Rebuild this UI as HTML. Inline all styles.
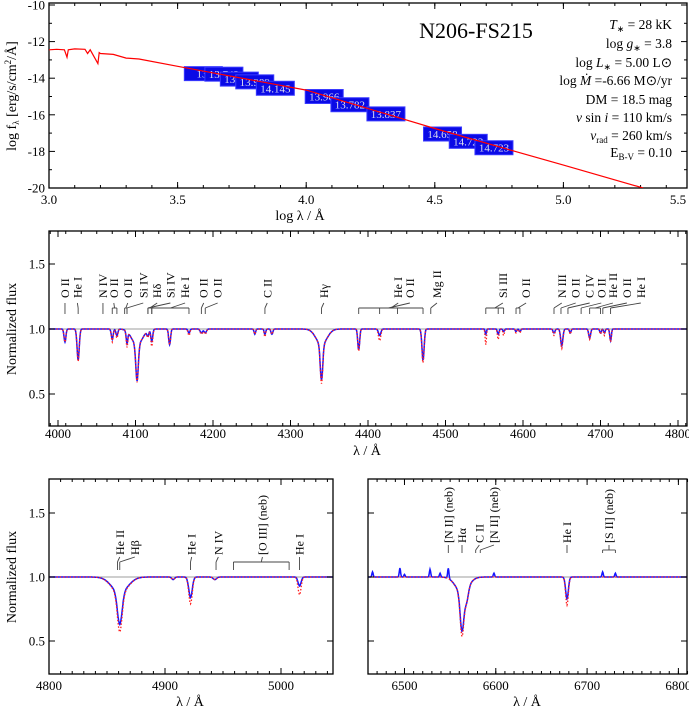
<!DOCTYPE html>
<html><head><meta charset="utf-8"><style>
body{margin:0;background:#fff}
svg{display:block;font-family:"Liberation Serif",serif}
</style></head><body>
<svg id="fig" width="689" height="712" viewBox="0 0 689 712" xmlns="http://www.w3.org/2000/svg"></svg>
<script>
// ---- SED panel data ----
const sedLogLam=[3.0,3.03,3.06,3.07,3.075,3.1,3.14,3.15,3.16,3.19,3.195,3.2,3.25,3.3,3.35,3.5,4.0,4.5,5.0,5.31];
const sedLogF=[-12.45,-12.42,-12.45,-12.85,-12.45,-12.4,-12.42,-12.65,-12.45,-13.2,-12.6,-12.65,-12.7,-12.9,-12.95,-13.35,-14.65,-16.75,-18.75,-20.0];
const photLabels=["13.","13.742","13.896","13.989","14.145","13.966","13.782","13.837","14.658","14.723","14.723"];
const photLogLam=[3.6,3.68,3.74,3.8,3.88,4.07,4.17,4.31,4.53,4.63,4.73];
const photLogF=[-13.75,-13.78,-14.05,-14.2,-14.55,-15.0,-15.45,-15.95,-17.05,-17.45,-17.8];
const sedXTicks=[3.0,3.5,4.0,4.5,5.0,5.5];
const sedYTicks=[-10,-12,-14,-16,-18,-20];
const params=["T∗ = 28 kK","log g∗ = 3.8","log L∗ = 5.00 L⊙","log Ṁ =-6.66 M⊙/yr","DM = 18.5 mag","v sin i = 110 km/s","vrad = 260 km/s","EB-V = 0.10"];
// ---- blue spectrum (4000-4800) lines: center, depth blue, depth red, sigma ----
const midCenters=[4009,4026,4070,4076,4089,4102,4102,4116,4121,4144,4169,4185,4190,4254,4267,4276,4340,4340,4388,4415,4471,4552,4568,4575,4591,4596,4640,4650,4661,4686,4700,4705,4713];
const midDepthB=[0.10,0.24,0.08,0.05,0.09,0.28,0.12,0.04,0.09,0.12,0.03,0.03,0.03,0.04,0.04,0.04,0.27,0.12,0.16,0.05,0.24,0.04,0.04,0.02,0.02,0.02,0.03,0.13,0.03,0.07,0.03,0.03,0.09];
const midDepthR=[0.10,0.25,0.10,0.07,0.12,0.29,0.12,0.05,0.13,0.12,0.05,0.04,0.04,0.04,0.06,0.04,0.30,0.12,0.17,0.09,0.26,0.12,0.08,0.05,0.03,0.03,0.05,0.15,0.04,0.08,0.04,0.05,0.10];
const midSigma=[1.2,1.4,1.2,1.2,1.0,1.6,7,1.2,1.2,1.2,1.2,1.5,1.5,1.0,1.0,1.2,1.6,7,1.2,1.5,1.4,0.8,1.0,1.0,1.0,1.0,1.2,1.4,1.0,1.2,1.0,1.0,1.0];
const midXTicks=[4000,4100,4200,4300,4400,4500,4600,4700,4800];
const midLabelText=["O II","He I","N IV","O II","O II","Si IV","Hδ","Si IV","He I","O II","O II","C II","Hγ","He I","O II","Mg II","Si III","O II","N III","O II","C IV","O II","He II","O II","He I"];
const midLabelPos=[4009,4025,4058,4072,4090,4110,4128,4145,4164,4188,4206,4270,4343,4439,4454,4489,4574,4604,4650,4668,4686,4701,4716,4734,4752];
const midLabelLine=[[4009],[4026],[4058],[4070,4076],[4086,4089],[4089],[4116,4121],[4116],[4121,4169],[4185],[4190],[4267],[4340],[4388,4471],[4415,4438],[4481],[4552,4568,4575],[4591,4596],[4640],[4649],[4658],[4675],[4686,4700],[4703],[4713]];
// ---- H-beta window ----
const hbCenters=[4861,4861,4907,4922,4943,5016];
const hbDepthB=[0.25,0.12,0.02,0.16,0.02,0.07];
const hbDepthR=[0.30,0.13,0.02,0.21,0.02,0.14];
const hbSigma=[2.0,7,1.2,1.5,1.5,1.3];
const hbXTicks=[4800,4900,5000];
const hbLabelText=["He II","Hβ","He I","N IV","[O III] (neb)","He I"];
const hbLabelPos=[4861,4874,4923,4946,4984,5016];
const hbLabelLine=[[4859],[4861],[4922],[4944],[4959,5007],[5016]];
// ---- H-alpha window ----
const haCenters=[6563,6563,6568,6678,6465,6495,6500,6528,6539,6548,6598,6717,6731];
const haDepthB=[0.30,0.12,0.10,0.17,-0.04,-0.07,-0.02,-0.06,-0.03,-0.08,-0.03,-0.04,-0.03];
const haDepthR=[0.34,0.12,0.10,0.22,0,0,0,0,0,0,0,0,0];
const haSigma=[2.0,7,2.0,1.5,0.7,0.7,0.7,0.7,0.7,0.7,0.7,0.7,0.7];
const haXTicks=[6500,6600,6700,6800];
const haLabelText=["[N II] (neb)","Hα","C II","[N II] (neb)","He I","[S II] (neb)"];
const haLabelPos=[6548,6563,6582,6598,6678,6724];
const haLabelLine=[[6548],[6563],[6578],[6583],[6678],[6717,6731]];

const NS="http://www.w3.org/2000/svg";
const svg=document.getElementById('fig');
function el(t,a,p){const e=document.createElementNS(NS,t);for(const k in a)e.setAttribute(k,a[k]);(p||svg).appendChild(e);return e;}
function lin(d0,d1,r0,r1){return v=>r0+(v-d0)*(r1-r0)/(d1-d0);}

function frame(x0,y0,x1,y1,name){
  const r=el('rect',{x:x0,y:y0,width:x1-x0,height:y1-y0,fill:'none',stroke:'#000','stroke-width':1.3});
  
  
}
function xticks(xs,major,minorStep,lo,hi,y0,y1,labY,fmt,name){
  const g=el('g',{});
  
  
  for(let v=lo;v<=hi+1e-9;v+=minorStep){const X=xs(v);if(X<xs(lo)-1)continue;
    el('line',{x1:X,x2:X,y1:y1,y2:y1-3,stroke:'#000'},g);el('line',{x1:X,x2:X,y1:y0,y2:y0+3,stroke:'#000'},g);}
  major.forEach(v=>{const X=xs(v);
    el('line',{x1:X,x2:X,y1:y1,y2:y1-6,stroke:'#000'},g);el('line',{x1:X,x2:X,y1:y0,y2:y0+6,stroke:'#000'},g);
    const t=el('text',{x:X,y:labY,'text-anchor':'middle','font-size':13},g);t.textContent=fmt(v);});
}
function yticks(ys,major,minor,x0,x1,labels,name){
  const g=el('g',{});
  
  
  minor.forEach(v=>{const Y=ys(v);el('line',{x1:x0,x2:x0+3,y1:Y,y2:Y,stroke:'#000'},g);el('line',{x1:x1,x2:x1-3,y1:Y,y2:Y,stroke:'#000'},g);});
  major.forEach(v=>{const Y=ys(v);el('line',{x1:x0,x2:x0+6,y1:Y,y2:Y,stroke:'#000'},g);el('line',{x1:x1,x2:x1-6,y1:Y,y2:Y,stroke:'#000'},g);
    if(labels){const t=el('text',{x:x0-4,y:Y+4.5,'text-anchor':'end','font-size':13},g);t.textContent=v.toFixed(1);}});
}
function profile(lam,c,d,s){let f=1;for(let i=0;i<c.length;i++){const u=(lam-c[i])/s[i];if(Math.abs(u)<6)f-=d[i]*Math.exp(-0.5*u*u);}return f;}
function spectrum(xs,ys,lo,hi,c,db,dr,s,x0,y0,x1,y1,name){
  const cid='clip'+name;const cp=el('clipPath',{id:cid});el('rect',{x:x0,y:y0,width:x1-x0,height:y1-y0},cp);
  const g=el('g',{'clip-path':'url(#'+cid+')'});
  
  
  const cont=el('line',{x1:x0,x2:x1,y1:ys(1),y2:ys(1),stroke:'#b0b0b0','stroke-width':1.2},g);
  
  
  let pb='',pr='';
  for(let l=lo;l<=hi;l+=0.5){const X=xs(l).toFixed(1);
    pb+=(pb?'L':'M')+X+','+ys(profile(l,c,db,s)).toFixed(1);
    pr+=(pr?'L':'M')+X+','+ys(profile(l,c,dr,s)).toFixed(1);}
  const b=el('path',{d:pb,fill:'none',stroke:'#1515ff','stroke-width':1.5},g);
  
  
  const r=el('path',{d:pr,fill:'none',stroke:'#ff2020','stroke-width':1.3,'stroke-dasharray':'1.5,1.8'},g);
  
  
}
function lineLabels(xs,texts,pos,lines,textBottom,tickTop,tickBot,name){
  const g=el('g',{'font-size':12});
  
  
  texts.forEach((t,i)=>{const X=xs(pos[i]);
    const tx=el('text',{transform:`translate(${X+4},${textBottom}) rotate(-90)`},g);tx.textContent=t;
    const ls=lines[i].map(xs);
    const mid=(Math.min(...ls)+Math.max(...ls))/2;
    el('line',{x1:X,y1:tickTop,x2:mid,y2:tickTop+5,stroke:'#444','stroke-width':0.9},g);
    if(ls.length>1)el('line',{x1:Math.min(...ls),x2:Math.max(...ls),y1:tickTop+5,y2:tickTop+5,stroke:'#444','stroke-width':0.9},g);
    ls.forEach(L=>el('line',{x1:L,x2:L,y1:tickTop+5,y2:tickBot,stroke:'#444','stroke-width':0.9},g));
  });
}
function title(x,y,txt,rot,name){
  const t=el('text',{'font-size':14,'text-anchor':'middle',transform:`translate(${x},${y})`+(rot?' rotate(-90)':'')});
  t.innerHTML=txt;
  
  
}

// ===== SED panel =====
(function(){
  const x0=49,x1=687,y0=3,y1=188;
  const xs=lin(3.0,5.5,49,692), ys=lin(-10,-20,5,188);
  frame(x0,y0,x1,y1,'sed-plot-frame');
  const cp=el('clipPath',{id:'sedclip'});el('rect',{x:x0,y:y0,width:x1-x0,height:y1-y0},cp);
  xticks(xs,sedXTicks.filter(v=>xs(v)<=x1),0.1,3.0,5.4,y0,y1,204,v=>v.toFixed(1),'sed-x-axis');
  const lab55=el('text',{x:678,y:204,'text-anchor':'middle','font-size':13});lab55.textContent='5.5';
  
  
  const mn=[];for(let v=-11;v>=-19;v-=2)mn.push(v);
  const ga=el('g',{});
  
  
  sedYTicks.forEach(v=>{const Y=ys(v);el('line',{x1:x0,x2:x0+6,y1:Y,y2:Y,stroke:'#000'},ga);el('line',{x1:x1,x2:x1-6,y1:Y,y2:Y,stroke:'#000'},ga);
    const t=el('text',{x:x0-4,y:Y+4.5,'text-anchor':'end','font-size':13},ga);t.textContent=v;});
  mn.forEach(v=>{const Y=ys(v);el('line',{x1:x0,x2:x0+3,y1:Y,y2:Y,stroke:'#000'},ga);el('line',{x1:x1,x2:x1-3,y1:Y,y2:Y,stroke:'#000'},ga);});
  const g=el('g',{'clip-path':'url(#sedclip)'});
  
  
  photLogLam.forEach((l,i)=>{const X=xs(l),Y=ys(photLogF[i]);
    const b=el('g',{},g);
    
    
    el('rect',{x:X-19,y:Y-7,width:38,height:14,fill:'#0a0ae6',stroke:'#3a3aff','stroke-width':1},b);
    const t=el('text',{x:X,y:Y+4,'text-anchor':'middle','font-size':11,fill:'#dde'},b);t.textContent=photLabels[i];});
  let d='';sedLogLam.forEach((l,i)=>{d+=(i?'L':'M')+xs(l).toFixed(1)+','+ys(sedLogF[i]).toFixed(1);});
  const p=el('path',{d:d,fill:'none',stroke:'#ff0000','stroke-width':1.2},g);
  
  
  const st=el('text',{x:476,y:38,'text-anchor':'middle','font-size':22});st.textContent='N206-FS215';
  
  
  const pg=el('g',{'font-size':13.5,'text-anchor':'end'});
  
  
  const html=['<tspan font-style="italic">T</tspan><tspan font-size="9" dy="3">∗</tspan><tspan dy="-3"> = 28 kK</tspan>',
   'log <tspan font-style="italic">g</tspan><tspan font-size="9" dy="3">∗</tspan><tspan dy="-3"> =  3.8</tspan>',
   'log <tspan font-style="italic">L</tspan><tspan font-size="9" dy="3">∗</tspan><tspan dy="-3"> = 5.00 L⊙</tspan>',
   'log <tspan font-style="italic">Ṁ</tspan> =-6.66 M⊙/yr','DM = 18.5 mag',
   '<tspan font-style="italic">v</tspan> sin <tspan font-style="italic">i</tspan> = 110 km/s',
   '<tspan font-style="italic">v</tspan><tspan font-size="9" dy="3">rad</tspan><tspan dy="-3"> = 260 km/s</tspan>',
   'E<tspan font-size="9" dy="3">B-V</tspan><tspan dy="-3"> = 0.10</tspan>'];
  const py=[29,48,67,85,104,122,140,157];
  html.forEach((h,i)=>{const t=el('text',{x:672,y:py[i]},pg);t.innerHTML=h;});
  title(16,96,'log f<tspan font-size="9" dy="3">λ</tspan><tspan dy="-3"> [erg/s/cm</tspan><tspan font-size="9" dy="-5">2</tspan><tspan dy="5">/Å]</tspan>',true,'sed-y-axis-title');
  title(300,220,'log λ / Å',false,'sed-x-axis-title');
})();

// ===== middle panel =====
(function(){
  const x0=49,x1=687,y0=231,y1=426;
  const xs=lin(4000,4800,58,678), ys=lin(1.0,1.5,329,264);
  spectrum(xs,ys,3985,4815,midCenters,midDepthB,midDepthR,midSigma,x0,y0,x1,y1,'blue-range');
  frame(x0,y0,x1,y1,'blue-range-frame');
  xticks(xs,midXTicks,20,3990,4810,y0,y1,438,v=>v,'blue-range-x-axis');
  yticks(ys,[0.5,1.0,1.5],[],x0,x1,true,'blue-range-y-axis');
  lineLabels(xs,midLabelText,midLabelPos,midLabelLine,298,303,314,'blue-range-line-ids');
  title(16,329,'Normalized flux',true,'blue-range-y-axis-title');
  title(367,455,'λ / Å',false,'blue-range-x-axis-title');
})();

// ===== H-beta panel =====
(function(){
  const x0=49,x1=333,y0=479,y1=674;
  const xs=lin(4800,5000,49,281), ys=lin(1.0,1.5,577,513);
  spectrum(xs,ys,4795,5050,hbCenters,hbDepthB,hbDepthR,hbSigma,x0,y0,x1,y1,'hbeta');
  frame(x0,y0,x1,y1,'hbeta-frame');
  xticks(xs,hbXTicks,10,4800,5040,y0,y1,690,v=>v,'hbeta-x-axis');
  yticks(ys,[0.5,1.0,1.5],[],x0,x1,true,'hbeta-y-axis');
  lineLabels(xs,hbLabelText,hbLabelPos,hbLabelLine,555,557,570,'hbeta-line-ids');
  title(16,577,'Normalized flux',true,'hbeta-y-axis-title');
  title(190,706,'λ / Å',false,'hbeta-x-axis-title');
})();

// ===== H-alpha panel =====
(function(){
  const x0=368,x1=687,y0=479,y1=674;
  const xs=lin(6563,6678,462,567), ys=lin(1.0,1.5,577,513);
  spectrum(xs,ys,6455,6815,haCenters,haDepthB,haDepthR,haSigma,x0,y0,x1,y1,'halpha');
  frame(x0,y0,x1,y1,'halpha-frame');
  xticks(xs,haXTicks,10,6470,6810,y0,y1,690,v=>v,'halpha-x-axis');
  yticks(ys,[0.5,1.0,1.5],[],x0,x1,false,'halpha-y-axis');
  lineLabels(xs,haLabelText,haLabelPos,haLabelLine,543,545,553,'halpha-line-ids');
  title(527,706,'λ / Å',false,'halpha-x-axis-title');
})();
</script>
</body></html>
